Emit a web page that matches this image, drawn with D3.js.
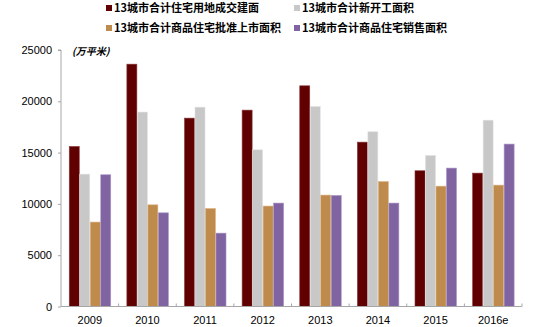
<!DOCTYPE html>
<html>
<head>
<meta charset="utf-8">
<script src="https://cdn.jsdelivr.net/npm/d3@7"></script>
<style>
  html, body { margin: 0; padding: 0; background: #fff; }
  svg { display: block; }
  text { font-family: "Liberation Sans", Arial, "Noto Sans CJK SC", sans-serif; fill: #000; }
</style>
</head>
<body>
<svg id="chart" width="536" height="327"></svg>
<script>
// Years on the category axis
const years = ["2009", "2010", "2011", "2012", "2013", "2014", "2015", "2016e"];

// Series names (legend order)
const seriesNames = [
  "13城市合计住宅用地成交建面",
  "13城市合计新开工面积",
  "13城市合计商品住宅批准上市面积",
  "13城市合计商品住宅销售面积"
];

// Values in 万平米
const landDeals   = [15600, 23620, 18360, 19140, 21510, 16020, 13230, 13000];
const newStarts   = [12900, 18950, 19430, 15270, 19490, 17030, 14720, 18160];
const approvedForSale = [8230, 9910, 9550, 9790, 10860, 12180, 11730, 11830];
const sales       = [12840, 9130, 7150, 10080, 10820, 10080, 13490, 15830];

const yTicks = [0, 5000, 10000, 15000, 20000, 25000];

const colors = ["#600000", "#c8c8c8", "#bf8b4c", "#8064a2"];
const edge = ["#8a3a3a", "#e2e2e2", "#dcb487", "#a994c4"];

const series = [landDeals, newStarts, approvedForSale, sales];

const svg = d3.select("#chart");
const mLeft = 61, mRight = 522, mTop = 50, mBottom = 306.5;

const x0 = d3.scaleBand().domain(years).range([mLeft, mRight]).paddingInner(0).paddingOuter(0);
const x1 = d3.scaleBand().domain(d3.range(series.length)).range([8, 50]).padding(0);
const y = d3.scaleLinear().domain([0, 25000]).range([mBottom, mTop]);

// Bars
const groups = svg.append("g").selectAll("g")
  .data(years)
  .join("g")
  .attr("transform", d => `translate(${x0(d)},0)`);

groups.selectAll("rect")
  .data((d, i) => series.map((s, k) => ({ k, v: s[i] })))
  .join("rect")
  .attr("x", d => x1(d.k) + 0.25)
  .attr("width", x1.bandwidth() - 0.5)
  .attr("y", d => y(d.v))
  .attr("height", d => y(0) - y(d.v))
  .attr("fill", d => colors[d.k])
  .attr("stroke", d => edge[d.k])
  .attr("stroke-width", 0.6);

// Y axis
const yAxis = d3.axisLeft(y).tickValues(yTicks).tickSize(3).tickPadding(6).tickFormat(d3.format("d"));
const gy = svg.append("g").attr("transform", `translate(${mLeft},0)`).call(yAxis);
gy.select(".domain").attr("stroke", "#a6a6a6").attr("d", `M-3,${mTop}H0V${mBottom}`);
gy.selectAll(".tick line").attr("stroke", "#a6a6a6");
gy.selectAll(".tick text").attr("font-size", 11).style("font-family", "'Liberation Sans', Arial, sans-serif");

// X axis with small ticks at category boundaries
const gx = svg.append("g").attr("transform", `translate(0,${mBottom})`);
gx.append("line").attr("x1", mLeft).attr("x2", mRight).attr("stroke", "#a6a6a6");
const bounds = years.map(d => x0(d) + x0.bandwidth());
gx.selectAll("line.tk").data(bounds).join("line")
  .attr("class", "tk")
  .attr("x1", d => d).attr("x2", d => d)
  .attr("y1", 0).attr("y2", -3)
  .attr("stroke", "#a6a6a6");
gx.selectAll("text").data(years).join("text")
  .attr("x", d => x0(d) + x0.bandwidth() / 2)
  .attr("y", 17)
  .attr("text-anchor", "middle")
  .attr("font-size", 11)
  .text(d => d);

// Unit label
svg.append("text")
  .attr("x", 72).attr("y", 55)
  .attr("font-size", 10)
  .attr("font-weight", "bold")
  .attr("font-style", "italic")
  .style("font-family", "'Noto Sans CJK SC', sans-serif")
  .text("(万平米)");

// Legend, two rows by two columns
const legendPos = [[106, 8], [294, 8], [106, 28], [294, 28]];
const legend = svg.append("g").selectAll("g")
  .data(seriesNames)
  .join("g")
  .attr("transform", (d, i) => `translate(${legendPos[i][0]},${legendPos[i][1]})`);
legend.append("rect")
  .attr("x", 0).attr("y", -3).attr("width", 6).attr("height", 6)
  .attr("fill", (d, i) => colors[i]);
legend.append("text")
  .attr("x", 8).attr("y", 0)
  .attr("dy", "0.36em")
  .attr("font-size", 11)
  .style("font-family", "'Noto Sans CJK SC', sans-serif")
  .attr("font-weight", "bold")
  .text(d => d);
</script>
</body>
</html>
